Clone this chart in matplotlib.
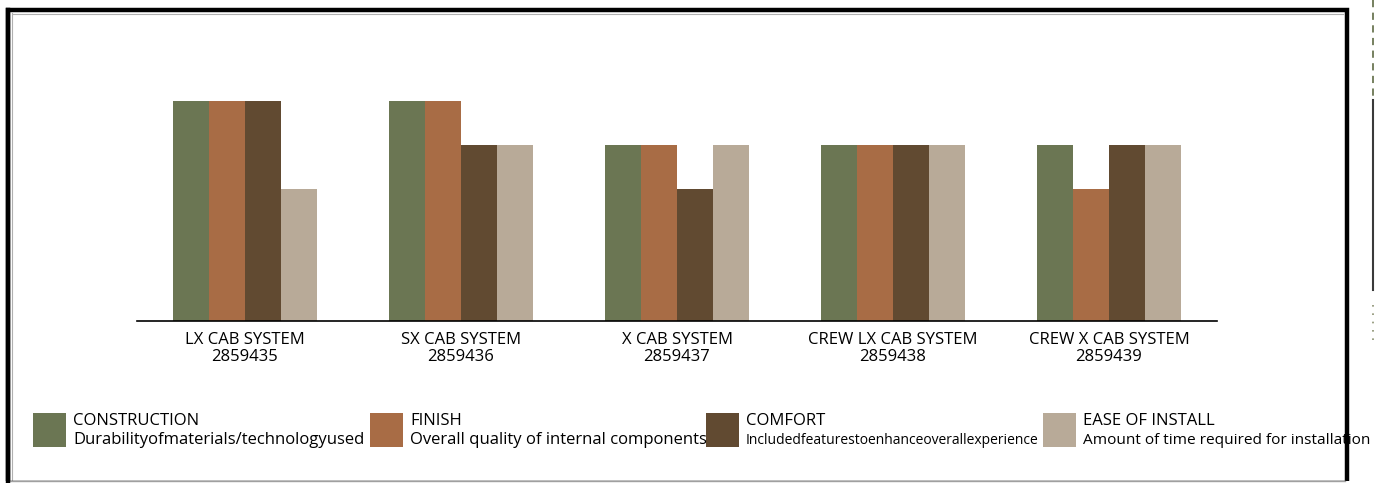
import matplotlib.pyplot as plt
import numpy as np
from matplotlib.patches import Rectangle

systems = ['LX CAB SYSTEM', 'SX CAB SYSTEM', 'X CAB SYSTEM', 'CREW LX CAB SYSTEM', 'CREW X CAB SYSTEM']
part_numbers = ['2859435', '2859436', '2859437', '2859438', '2859439']

construction = [5, 5, 4, 4, 4]
finish = [5, 5, 4, 4, 3]
comfort = [5, 4, 3, 4, 4]
ease_of_install = [3, 4, 4, 4, 4]

series_names = ['CONSTRUCTION', 'FINISH', 'COMFORT', 'EASE OF INSTALL']
series_desc = ['Durabilityofmaterials/technologyused',
               'Overall quality of internal components',
               'Includedfeaturestoenhanceoverallexperience',
               'Amount of time required for installation']
colors = ['#6b7653', '#a86c45', '#614a31', '#b8aa98']

W, H = 1377, 483
plt.rcParams['font.family'] = ['Open Sans', 'DejaVu Sans']
fig = plt.figure(figsize=(W / 100, H / 100), dpi=100)


def px(x, y):
    # pixel coords (top-left origin) -> figure fraction
    return x / W, 1 - y / H


# frame (drawn above the legend text, as in the original)
fig.add_artist(Rectangle((8 / W, 1 - 483 / H), 1339 / W, (483 - 10) / H, transform=fig.transFigure,
                         fill=False, edgecolor='black', linewidth=3.2, zorder=5))
fig.add_artist(Rectangle((0, 0), 1, 2.5 / H, transform=fig.transFigure,
                         facecolor='white', edgecolor='none', zorder=6))
fig.add_artist(plt.Line2D([10 / W, 1345 / W], [1 - 481 / H] * 2, transform=fig.transFigure,
                          color='#a0a0a0', linewidth=1, zorder=7))
fig.add_artist(plt.Line2D([8 / W, 8 / W], [1 - 483 / H, 1 - 10 / H], transform=fig.transFigure,
                          color='black', linewidth=3.2, zorder=7))
fig.add_artist(plt.Line2D([12 / W, 1343 / W], [1 - 13.5 / H] * 2, transform=fig.transFigure,
                          color='#b0b0b0', linewidth=0.8))
fig.add_artist(plt.Line2D([11.5 / W, 11.5 / W], [1 - 480 / H, 1 - 13 / H], transform=fig.transFigure,
                          color='#b0b0b0', linewidth=0.8))
# scan edge on the far right
fig.add_artist(plt.Line2D([1373 / W] * 2, [1 - 100 / H, 1 - 290 / H], transform=fig.transFigure,
                          color='#3a3a3a', linewidth=1.5))
fig.add_artist(plt.Line2D([1373 / W] * 2, [1.0, 1 - 100 / H], transform=fig.transFigure,
                          color='#6b7653', linewidth=1.3, linestyle=(0, (4, 3))))
fig.add_artist(plt.Line2D([1373 / W] * 2, [1 - 305 / H, 1 - 340 / H], transform=fig.transFigure,
                          color='#8a9070', linewidth=1.2, linestyle=(0, (1, 4))))

ax = fig.add_axes([137 / W, 162 / H, 1080 / W, 220 / H])
data = [construction, finish, comfort, ease_of_install]
x = np.arange(len(systems))
width = 1 / 6
for i, (vals, c) in enumerate(zip(data, colors)):
    ax.bar(x + (i - 1.5) * width, vals, width, color=c, linewidth=0)

ax.set_xlim(-0.5, len(systems) - 0.5)
ax.set_ylim(0, 5)
for s in ['top', 'right', 'left']:
    ax.spines[s].set_visible(False)
ax.spines['bottom'].set_linewidth(1.2)
ax.set_yticks([])
ax.set_xticks(x)
ax.set_xticklabels([f'{s}\n{p}' for s, p in zip(systems, part_numbers)],
                   fontsize=12, linespacing=1.05)
ax.tick_params(axis='x', length=0, pad=8)

# legend
leg_x = [33, 370, 706, 1043]
desc_sizes = [12, 12, 10, 11.1]
for lx, name, desc, c, ds in zip(leg_x, series_names, series_desc, colors, desc_sizes):
    fx, fy = px(lx, 447)
    fig.patches.append(Rectangle((fx, fy), 33 / W, 34 / H, transform=fig.transFigure,
                                 facecolor=c, edgecolor='none'))
    tx, ty = px(lx + 40, 421)
    fig.text(tx, ty, name, fontsize=12, va='center', ha='left')
    tx, ty = px(lx + 40, 440)
    fig.text(tx, ty, desc, fontsize=ds, va='center', ha='left')

fig.savefig('out.png', dpi=100)
